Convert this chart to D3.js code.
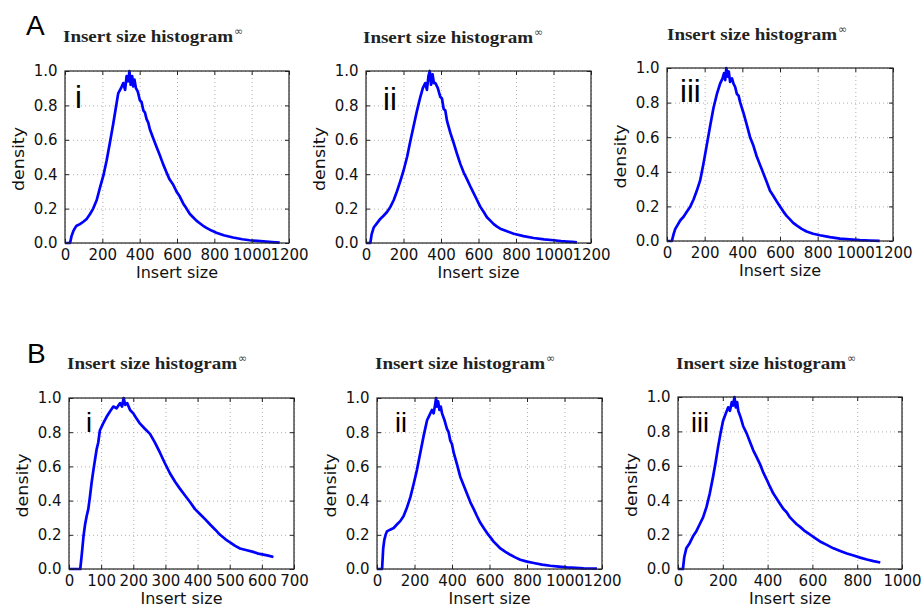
<!DOCTYPE html>
<html>
<head>
<meta charset="utf-8">
<script src="https://cdn.jsdelivr.net/npm/d3@7"></script>
<style>
body { margin: 0; background: #fff; }
</style>
</head>
<body>
<div id="chart"></div>
<script>
//Width and height
var w = 922;
var h = 611;

//Tick values
var densityTicks = [0, 0.2, 0.4, 0.6, 0.8, 1.0];
var ticks1200 = [0, 200, 400, 600, 800, 1000, 1200];
var ticks700 = [0, 100, 200, 300, 400, 500, 600, 700];
var ticks1000 = [0, 200, 400, 600, 800, 1000];

//Panel A i
var aiSize = [0, 27, 35, 45, 55, 62, 80, 100, 116, 135, 151, 170, 187, 205, 223, 240, 258, 270, 285, 300, 312, 322, 330, 339, 345, 352, 360, 365, 372, 380, 390, 401, 410, 420, 428, 437, 446, 455, 472, 490, 508, 525, 544, 560, 579, 597, 615, 633, 651, 668, 686, 704, 722, 740, 758, 785, 811, 850, 900, 950, 989, 1030, 1078, 1110, 1150];
var aiDensity = [0, 0, 0.04, 0.07, 0.09, 0.10, 0.11, 0.125, 0.14, 0.17, 0.20, 0.25, 0.32, 0.39, 0.48, 0.58, 0.69, 0.77, 0.87, 0.90, 0.93, 0.89, 0.97, 0.94, 1.0, 0.92, 0.97, 0.91, 0.95, 0.90, 0.88, 0.83, 0.82, 0.77, 0.76, 0.72, 0.70, 0.66, 0.61, 0.56, 0.51, 0.46, 0.41, 0.37, 0.34, 0.30, 0.27, 0.23, 0.20, 0.17, 0.15, 0.13, 0.115, 0.10, 0.088, 0.072, 0.06, 0.045, 0.032, 0.022, 0.016, 0.012, 0.008, 0.005, 0.002];

//Panel A ii
var aiiSize = [0, 23, 30, 41, 55, 76, 95, 112, 130, 148, 165, 183, 200, 219, 236, 254, 272, 290, 303, 316, 325, 333, 340, 347, 355, 362, 370, 383, 396, 405, 414, 423, 432, 450, 468, 485, 503, 521, 539, 556, 574, 592, 610, 628, 645, 663, 681, 699, 716, 752, 788, 840, 894, 950, 1001, 1040, 1072, 1100, 1125];
var aiiDensity = [0, 0, 0.05, 0.09, 0.11, 0.14, 0.16, 0.18, 0.21, 0.25, 0.30, 0.36, 0.42, 0.50, 0.59, 0.68, 0.77, 0.85, 0.90, 0.93, 0.89, 0.97, 1.0, 0.92, 0.98, 0.93, 0.93, 0.90, 0.85, 0.84, 0.78, 0.77, 0.71, 0.64, 0.58, 0.52, 0.46, 0.41, 0.37, 0.33, 0.29, 0.25, 0.21, 0.18, 0.15, 0.13, 0.11, 0.095, 0.083, 0.068, 0.054, 0.04, 0.029, 0.021, 0.016, 0.011, 0.008, 0.006, 0.004];

//Panel A iii
var aiiiSize = [0, 26, 35, 44, 55, 71, 88, 106, 124, 141, 158, 176, 194, 212, 230, 247, 265, 282, 295, 303, 309, 315, 322, 328, 335, 345, 353, 362, 371, 380, 389, 406, 424, 441, 459, 476, 494, 512, 530, 547, 565, 582, 600, 618, 635, 653, 670, 688, 715, 741, 776, 812, 865, 918, 970, 1024, 1075, 1129];
var aiiiDensity = [0, 0, 0.04, 0.07, 0.09, 0.12, 0.14, 0.17, 0.20, 0.24, 0.29, 0.35, 0.45, 0.56, 0.67, 0.77, 0.85, 0.91, 0.94, 0.97, 0.93, 1.0, 0.95, 0.98, 0.92, 0.94, 0.91, 0.89, 0.85, 0.84, 0.80, 0.74, 0.67, 0.60, 0.55, 0.49, 0.44, 0.39, 0.34, 0.29, 0.26, 0.23, 0.20, 0.17, 0.145, 0.125, 0.105, 0.09, 0.07, 0.055, 0.042, 0.033, 0.022, 0.014, 0.009, 0.005, 0.003, 0.001];

//Panel B i
var biSize = [0, 35, 40, 45, 50, 55, 60, 65, 70, 76, 81, 86, 91, 96, 106, 117, 127, 138, 148, 159, 165, 170, 175, 181, 190, 200, 210, 221, 236, 252, 267, 283, 298, 314, 330, 345, 361, 377, 392, 408, 424, 439, 455, 470, 486, 501, 517, 532, 553, 573, 589, 605, 620, 636];
var biDensity = [0, 0, 0.09, 0.19, 0.26, 0.31, 0.35, 0.42, 0.50, 0.58, 0.64, 0.70, 0.74, 0.81, 0.85, 0.89, 0.92, 0.95, 0.94, 0.97, 0.95, 1.0, 0.96, 0.97, 0.93, 0.91, 0.88, 0.85, 0.82, 0.79, 0.74, 0.68, 0.62, 0.56, 0.51, 0.47, 0.43, 0.39, 0.35, 0.32, 0.29, 0.26, 0.23, 0.20, 0.175, 0.155, 0.135, 0.12, 0.11, 0.10, 0.09, 0.084, 0.078, 0.07];

//Panel B ii
var biiSize = [0, 27, 33, 39, 46, 53, 70, 89, 106, 124, 142, 160, 178, 196, 213, 231, 249, 267, 280, 293, 302, 310, 315, 320, 326, 333, 340, 347, 360, 373, 382, 391, 400, 409, 427, 444, 462, 480, 498, 516, 533, 551, 569, 587, 605, 622, 640, 658, 685, 711, 737, 764, 800, 836, 880, 924, 970, 1013, 1060, 1102, 1140, 1173];
var biiDensity = [0, 0, 0.12, 0.17, 0.20, 0.22, 0.23, 0.24, 0.26, 0.28, 0.31, 0.36, 0.42, 0.50, 0.58, 0.68, 0.78, 0.87, 0.90, 0.93, 0.91, 0.96, 1.0, 0.95, 0.98, 0.93, 0.95, 0.91, 0.87, 0.82, 0.80, 0.75, 0.73, 0.68, 0.61, 0.54, 0.49, 0.44, 0.39, 0.35, 0.31, 0.27, 0.24, 0.21, 0.185, 0.16, 0.14, 0.12, 0.10, 0.083, 0.068, 0.054, 0.043, 0.035, 0.026, 0.019, 0.014, 0.01, 0.007, 0.004, 0.003, 0.002];

//Panel B iii
var biiiSize = [0, 22, 28, 37, 52, 67, 82, 97, 112, 127, 142, 157, 168, 179, 190, 201, 212, 224, 232, 240, 246, 252, 258, 264, 269, 280, 291, 306, 321, 336, 351, 366, 381, 396, 410, 425, 440, 455, 470, 485, 500, 515, 530, 545, 567, 590, 612, 634, 664, 694, 724, 754, 784, 813, 843, 873, 903];
var biiiDensity = [0, 0, 0.07, 0.12, 0.15, 0.19, 0.22, 0.26, 0.30, 0.36, 0.44, 0.54, 0.62, 0.71, 0.79, 0.86, 0.90, 0.94, 0.92, 0.97, 0.95, 1.0, 0.94, 0.97, 0.92, 0.88, 0.83, 0.79, 0.74, 0.69, 0.65, 0.61, 0.56, 0.52, 0.48, 0.44, 0.41, 0.38, 0.35, 0.33, 0.30, 0.28, 0.26, 0.245, 0.22, 0.20, 0.18, 0.16, 0.14, 0.12, 0.105, 0.09, 0.078, 0.066, 0.055, 0.046, 0.038];

//Layout of the six panels: plot box [left, right, top, bottom]
var panels = [
    { size: aiSize, dens: aiDensity, ticks: ticks1200, box: [65, 289, 71, 243], titleX: 63, titleY: 41.5, numeral: "i", numX: 75, numY: 108, numSize: 31 },
    { size: aiiSize, dens: aiiDensity, ticks: ticks1200, box: [366, 591, 71, 243], titleX: 363, titleY: 43, numeral: "ii", numX: 383, numY: 110, numSize: 31 },
    { size: aiiiSize, dens: aiiiDensity, ticks: ticks1200, box: [667, 893, 68, 241], titleX: 667, titleY: 40, numeral: "iii", numX: 680, numY: 102, numSize: 31 },
    { size: biSize, dens: biDensity, ticks: ticks700, box: [69, 294, 398, 569], titleX: 67, titleY: 369, numeral: "i", numX: 86, numY: 432, numSize: 27 },
    { size: biiSize, dens: biiDensity, ticks: ticks1200, box: [377, 602, 398, 569], titleX: 375, titleY: 369, numeral: "ii", numX: 395, numY: 432, numSize: 27 },
    { size: biiiSize, dens: biiiDensity, ticks: ticks1000, box: [678, 902, 397, 569], titleX: 676, titleY: 369, numeral: "iii", numX: 691, numY: 432, numSize: 27 }
];

var svg = d3.select("#chart")
    .append("svg")
    .attr("width", w)
    .attr("height", h)
    .style("font-family", "'DejaVu Sans', sans-serif");

panels.forEach(function (p) {
    var left = p.box[0], right = p.box[1], top = p.box[2], bottom = p.box[3];
    var pw = right - left, ph = bottom - top;

    var xScale = d3.scaleLinear()
        .domain([0, d3.max(p.ticks)])
        .range([0, pw]);

    var yScale = d3.scaleLinear()
        .domain([0, 1])
        .range([ph, 0]);

    var g = svg.append("g")
        .attr("transform", "translate(" + left + "," + top + ")");

    //Dotted grid
    g.append("g")
        .attr("class", "grid")
        .attr("transform", "translate(0," + ph + ")")
        .call(d3.axisBottom(xScale).tickValues(p.ticks).tickSize(-ph).tickFormat(""));
    g.append("g")
        .attr("class", "grid")
        .call(d3.axisLeft(yScale).tickValues(densityTicks).tickSize(-pw).tickFormat(""));
    g.selectAll(".grid path").remove();
    g.selectAll(".grid line")
        .attr("stroke", "#9a9a9a")
        .attr("stroke-width", 0.8)
        .attr("stroke-dasharray", "1,3");

    //Curve
    var line = d3.line()
        .x(function (d, i) { return xScale(p.size[i]); })
        .y(function (d) { return yScale(d); });

    g.append("path")
        .datum(p.dens)
        .attr("fill", "none")
        .attr("stroke", "#0000ff")
        .attr("stroke-width", 2.7)
        .attr("stroke-linejoin", "round")
        .attr("d", line);

    //Axes with inward ticks
    var xAxis = d3.axisBottom(xScale).tickValues(p.ticks).tickSize(-4).tickPadding(6).tickFormat(d3.format("d"));
    var yAxis = d3.axisLeft(yScale).tickValues(densityTicks).tickSize(-4).tickPadding(7.5).tickFormat(d3.format(".1f"));

    g.append("g")
        .attr("class", "x axis")
        .attr("transform", "translate(0," + ph + ")")
        .call(xAxis);
    g.append("g")
        .attr("class", "y axis")
        .call(yAxis);
    g.append("g")
        .attr("class", "axis")
        .call(d3.axisTop(xScale).tickValues(p.ticks).tickSize(-4).tickFormat(""));
    g.append("g")
        .attr("class", "axis")
        .attr("transform", "translate(" + pw + ",0)")
        .call(d3.axisRight(yScale).tickValues(densityTicks).tickSize(-4).tickFormat(""));

    g.selectAll(".axis path").remove();
    g.selectAll(".axis line").attr("stroke", "#222");
    g.selectAll(".axis text")
        .attr("font-family", "'DejaVu Sans', sans-serif")
        .attr("font-size", "15px")
        .attr("fill", "#111");

    //Frame
    g.append("rect")
        .attr("width", pw)
        .attr("height", ph)
        .attr("fill", "none")
        .attr("stroke", "#222")
        .attr("stroke-width", 1.2);

    //Axis labels
    g.append("text")
        .attr("x", pw / 2)
        .attr("y", ph + 35)
        .attr("text-anchor", "middle")
        .attr("font-size", "15px")
        .attr("textLength", 82)
        .attr("lengthAdjust", "spacingAndGlyphs")
        .attr("fill", "#111")
        .text("Insert size");

    g.append("text")
        .attr("transform", "translate(-41.5," + (ph / 2 + 2) + ") rotate(-90)")
        .attr("text-anchor", "middle")
        .attr("font-size", "15px")
        .attr("textLength", 64)
        .attr("lengthAdjust", "spacingAndGlyphs")
        .attr("fill", "#111")
        .text("density");

    //Title
    svg.append("text")
        .attr("x", p.titleX)
        .attr("y", p.titleY)
        .attr("font-family", "'Liberation Serif', serif")
        .attr("font-weight", "bold")
        .attr("font-size", "16px")
        .attr("textLength", 170)
        .attr("lengthAdjust", "spacingAndGlyphs")
        .attr("fill", "#222")
        .text("Insert size histogram");
    svg.append("text")
        .attr("x", p.titleX + 171)
        .attr("y", p.titleY - 7)
        .attr("font-family", "'DejaVu Sans', sans-serif")
        .attr("font-size", "11px")
        .attr("fill", "#444")
        .text("\u221E");

    //Roman numeral
    svg.append("text")
        .attr("x", p.numX)
        .attr("y", p.numY)
        .attr("font-family", "'Liberation Sans', Arial, sans-serif")
        .attr("font-size", p.numSize + "px")
        .attr("fill", "#000")
        .text(p.numeral);
});

//Figure letters
svg.append("text")
    .attr("x", 26)
    .attr("y", 35)
    .attr("font-family", "'Liberation Sans', Arial, sans-serif")
    .attr("font-size", "28px")
    .attr("fill", "#000")
    .text("A");

svg.append("text")
    .attr("x", 27)
    .attr("y", 363)
    .attr("font-family", "'Liberation Sans', Arial, sans-serif")
    .attr("font-size", "28px")
    .attr("fill", "#000")
    .text("B");
</script>
</body>
</html>
